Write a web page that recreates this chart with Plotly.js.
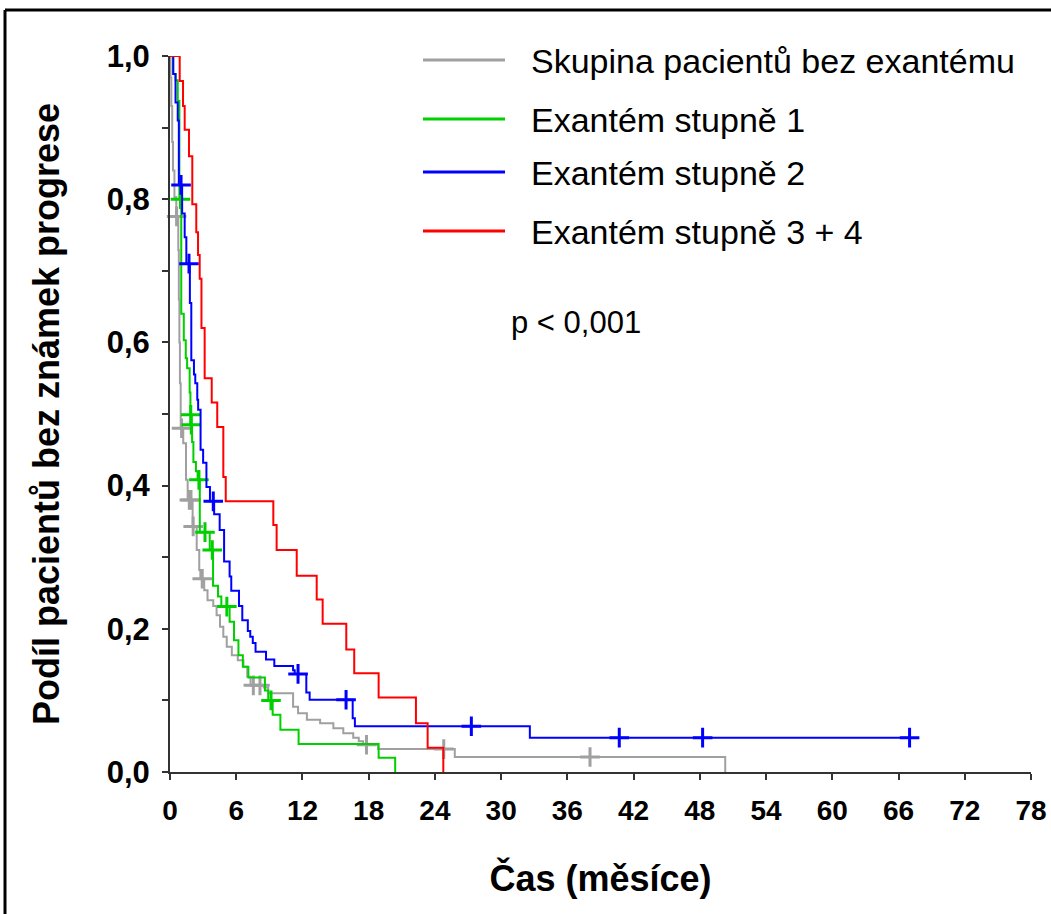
<!DOCTYPE html>
<html>
<head>
<meta charset="utf-8">
<script src="https://cdn.plot.ly/plotly-3.0.1.min.js"></script>
<style>
  html, body { margin: 0; padding: 0; background: #fff; }
  #chart { width: 1051px; height: 914px; }
</style>
</head>
<body>
<div id="chart"></div>
<script>
// ---------------- data ----------------
const seriesNames = [
  "Skupina pacientů bez exantému",
  "Exantém stupně 1",
  "Exantém stupně 2",
  "Exantém stupně 3 + 4"
];

// group without rash (grey)
const greyTimes = [0.05,0.12,0.2,0.27,0.4,0.57,0.75,0.8,0.85,0.9,0.97,1.2,1.45,1.6,2.05,2.42,2.65,2.75,3.1,3.4,3.92,4.22,4.53,4.83,5.14,5.6,6.14,6.65,7.0,7.3,8.5,8.9,11.15,11.6,12.4,13.6,14.8,15.7,16.6,17.1,17.5,18.85,25.8,50.3];
const greySurv  = [0.97,0.93,0.88,0.84,0.803,0.776,0.729,0.66,0.6,0.543,0.48,0.459,0.408,0.38,0.343,0.31,0.282,0.27,0.254,0.24,0.232,0.219,0.203,0.189,0.175,0.163,0.156,0.147,0.133,0.121,0.118,0.11,0.091,0.082,0.073,0.068,0.061,0.054,0.048,0.043,0.038,0.032,0.021,0];
const greyCensT = [0.6,1.05,1.75,1.9,2.1,2.92,7.55,8.15,17.8,24.8,38.05];
const greyCensS = [0.776,0.48,0.38,0.38,0.343,0.27,0.121,0.121,0.038,0.032,0.021];

// rash grade 1 (green)
const greenTimes = [0.27,0.5,0.7,0.85,1.02,1.25,1.43,1.55,1.78,1.85,1.9,2.0,2.12,2.35,2.5,2.7,3.6,3.9,4.35,4.65,5.4,5.8,6.2,6.6,7.1,8.6,8.9,9.3,10.0,11.65,18.9,20.4];
const greenSurv  = [0.975,0.966,0.937,0.80,0.64,0.603,0.578,0.564,0.53,0.499,0.485,0.461,0.433,0.42,0.408,0.335,0.31,0.26,0.245,0.231,0.21,0.184,0.163,0.147,0.132,0.114,0.1,0.08,0.059,0.039,0.02,0];
const greenCensT = [0.95,1.88,1.93,2.62,3.17,3.83,5.15,9.15];
const greenCensS = [0.80,0.499,0.485,0.408,0.335,0.31,0.231,0.1];

// rash grade 2 (blue)
const blueTimes = [0.3,0.5,0.7,0.8,1.1,1.33,1.48,1.8,1.93,2.17,2.29,2.47,2.55,2.77,3.0,3.3,3.62,4.0,4.5,4.9,5.4,5.55,6.25,6.55,7.05,7.27,7.5,7.75,8.7,9.45,11.15,11.3,12.35,12.65,16.55,16.75,32.6];
const blueSurv  = [0.975,0.935,0.91,0.82,0.78,0.747,0.71,0.655,0.575,0.555,0.543,0.52,0.506,0.45,0.432,0.398,0.378,0.36,0.338,0.294,0.273,0.253,0.232,0.212,0.197,0.189,0.18,0.168,0.157,0.148,0.142,0.137,0.111,0.101,0.075,0.064,0.048];
const blueCensT = [1.0,1.72,3.92,11.6,15.95,27.3,40.7,48.25,67.0];
const blueCensS = [0.82,0.71,0.378,0.137,0.101,0.064,0.048,0.048,0.048];

// rash grade 3 + 4 (red)
const redTimes = [0.88,1.18,1.33,1.72,2.02,2.38,2.54,2.69,2.85,3.14,3.78,4.28,4.83,5.05,9.36,9.66,11.48,13.29,13.83,15.97,16.69,18.9,22.28,23.34,24.76];
const redSurv  = [0.965,0.93,0.897,0.86,0.793,0.754,0.722,0.689,0.62,0.55,0.516,0.482,0.412,0.378,0.345,0.31,0.274,0.241,0.207,0.171,0.138,0.104,0.068,0.034,0];
const redCensT = [];
const redCensS = [];

// follow-up end for each curve (last time shown)
const followUpEnd = [50.3, 20.4, 67.0, 24.76];

const xTickVals = [0,6,12,18,24,30,36,42,48,54,60,66,72,78];
const yTickVals = [0,0.2,0.4,0.6,0.8,1.0];
const yTickText = ["0,0","0,2","0,4","0,6","0,8","1,0"];
const yMinorVals = [0.1,0.3,0.5,0.7,0.9];
const pText = "p < 0,001";
const xTitle = "Čas (měsíce)";
const yTitle = "Podíl pacientů bez známek progrese";

// ---------------- styling ----------------
const colors = ["#a0a0a0", "#00d000", "#0000ff", "#ff0000"];
const FONT = "Liberation Sans, Arial, sans-serif";

const W = 1051, H = 914;
const M = { l: 170, r: 20, t: 56, b: 142 };
const PW = W - M.l - M.r, PH = H - M.t - M.b;
const px2x = p => (p - M.l) / PW;
const py2y = p => (H - M.b - p) / PH;

function stepTrace(times, surv, end, color) {
  const x = [0].concat(times);
  const y = [1].concat(surv);
  const last = y[y.length - 1];
  if (end > x[x.length - 1]) { x.push(end); y.push(last); }
  return {
    type: "scatter", mode: "lines", x: x, y: y,
    line: { shape: "hv", color: color, width: 2 },
    cliponaxis: false, showlegend: false, hoverinfo: "x+y"
  };
}
function censorTrace(t, s, color) {
  return {
    type: "scatter", mode: "markers", x: t, y: s,
    marker: { symbol: "cross-thin", size: 14, color: color, line: { color: color, width: 3 } },
    cliponaxis: false, showlegend: false, hoverinfo: "x+y"
  };
}

const groups = [
  [greyTimes, greySurv, greyCensT, greyCensS],
  [greenTimes, greenSurv, greenCensT, greenCensS],
  [blueTimes, blueSurv, blueCensT, blueCensS],
  [redTimes, redSurv, redCensT, redCensS]
];
const data = [];
groups.forEach((g, i) => {
  data.push(stepTrace(g[0], g[1], followUpEnd[i], colors[i]));
  if (g[2].length) data.push(censorTrace(g[2], g[3], colors[i]));
});

// manual legend (long sample lines like the reference)
const legendY = [60, 119, 172, 231];
const shapes = [];
const annotations = [];
seriesNames.forEach((name, i) => {
  shapes.push({
    type: "line", xref: "paper", yref: "paper",
    x0: px2x(423), x1: px2x(505), y0: py2y(legendY[i]), y1: py2y(legendY[i]),
    line: { color: colors[i], width: 3 }
  });
  annotations.push({
    xref: "paper", yref: "paper", x: px2x(529), y: py2y(legendY[i] + 1),
    xanchor: "left", yanchor: "middle", showarrow: false, text: name,
    font: { family: FONT, size: 34, color: "#000" }
  });
});
annotations.push({
  xref: "paper", yref: "paper", x: px2x(509), y: py2y(322),
  xanchor: "left", yanchor: "middle", showarrow: false, text: pText,
  font: { family: FONT, size: 31, color: "#000" }
});

// outer frame (left and top edges visible in the reference)
shapes.push({ type: "line", xref: "paper", yref: "paper",
  x0: px2x(5), x1: px2x(5), y0: py2y(10), y1: py2y(920), line: { color: "#000", width: 3 } });
shapes.push({ type: "line", xref: "paper", yref: "paper",
  x0: px2x(5), x1: px2x(1060), y0: py2y(10), y1: py2y(10), line: { color: "#000", width: 3 } });

const layout = {
  width: W, height: H,
  margin: M,
  paper_bgcolor: "#fff", plot_bgcolor: "#fff",
  showlegend: false,
  font: { family: FONT, color: "#000" },
  xaxis: {
    range: [0, 78], tickvals: xTickVals, ticktext: xTickVals.map(String),
    showline: true, linecolor: "#333", linewidth: 2,
    ticks: "outside", ticklen: 6, tickwidth: 2, tickcolor: "#333",
    showgrid: false, zeroline: false,
    tickfont: { family: FONT, size: 28, weight: "bold", color: "#000" },
    ticklabelstandoff: 6,
    title: { text: xTitle, font: { family: FONT, size: 36, weight: "bold", color: "#000" } },
    automargin: false
  },
  yaxis: {
    range: [0, 1], tickvals: yTickVals, ticktext: yTickText,
    showline: true, linecolor: "#333", linewidth: 2,
    ticks: "outside", ticklen: 6, tickwidth: 2, tickcolor: "#333",
    minor: { tickvals: yMinorVals, ticks: "outside", ticklen: 6, tickwidth: 2, tickcolor: "#333", showgrid: false },
    showgrid: false, zeroline: false,
    tickfont: { family: FONT, size: 31, weight: "bold", color: "#000" },
    ticklabelstandoff: 6,
    title: { text: yTitle, font: { family: FONT, size: 36, weight: "bold", color: "#000" }, standoff: 36 },
    automargin: true
  },
  shapes: shapes,
  annotations: annotations
};

Plotly.newPlot("chart", data, layout, { displayModeBar: false, staticPlot: true });
</script>
</body>
</html>
